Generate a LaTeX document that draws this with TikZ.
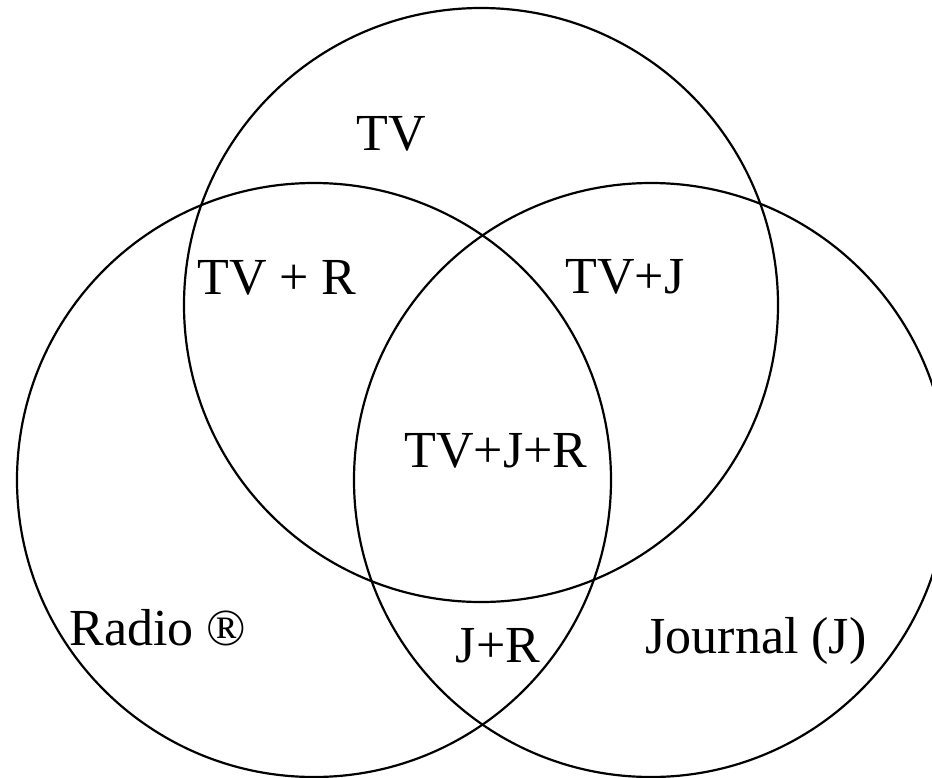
\documentclass[tikz,border=0pt]{standalone}
\usepackage{fontspec}
\setmainfont{Liberation Serif}
\tikzset{
  setcircle/.style={circle, draw=black, line width=2.2pt, minimum size=594pt, inner sep=0pt},
  lbl/.style={anchor=base, inner sep=0pt, font=\fontsize{52}{60}\selectfont}
}
\begin{document}
\begin{tikzpicture}[x=1pt,y=-1pt]
\clip (0,0) rectangle (932,777);
\fill[white] (0,0) rectangle (932,777);
\node[setcircle] (tv) at (481,305) {};
\node[setcircle] (radio) at (314,480) {};
\node[setcircle] (journal) at (651,480) {};
\node[lbl] (ltv) at (391,150) {TV};
\node[lbl] (ltvr) at (277,294) {TV + R};
\node[lbl] (ltvj) at (625,293) {TV+J};
\node[lbl] (ltvjr) at (496,467) {TV+J+R};
\node[lbl] (lradio) at (158,645) {Radio ®};
\node[lbl] (ljr) at (498,662) {J+R};
\node[lbl] (ljournal) at (756,653) {Journal (J)};
\end{tikzpicture}
\end{document}
